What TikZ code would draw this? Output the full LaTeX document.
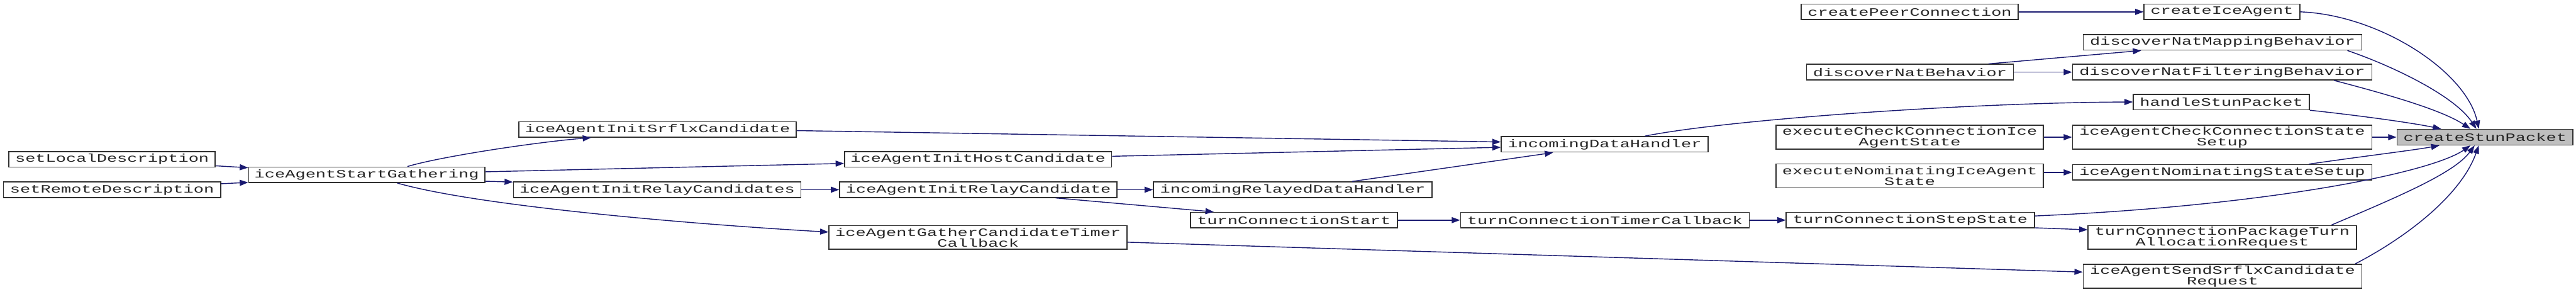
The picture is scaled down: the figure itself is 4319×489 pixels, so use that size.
\documentclass[tikz,border=0pt]{standalone}
\usepackage{fontspec}
\newfontfamily\lblfont[FakeStretch=1.5]{Liberation Mono}
\usetikzlibrary{arrows.meta,calc}
\definecolor{edgeblue}{HTML}{191970}
\definecolor{tgtgray}{HTML}{BFBFBF}
\definecolor{boxline}{HTML}{303030}
\tikzset{
  fn/.style={draw=boxline, line width=1.7pt, fill=white, inner sep=0pt, anchor=north west,
    align=center, text=black!85, font=\lblfont\fontsize{19}{18}\selectfont},
  tgt/.style={fn, fill=tgtgray},
  call/.style={draw=edgeblue, line width=1.5pt, -{Triangle[length=14pt,width=10pt]}},
}
\begin{document}
\begin{tikzpicture}[x=1pt,y=1pt]
\useasboundingbox (0,0) rectangle (4319,-489);
% nodes
\node[fn, minimum width=364pt, minimum height=26pt] (cpc) at (3019,-6) {createPeerConnection};
\node[fn, minimum width=261pt, minimum height=26pt] (cia) at (3594,-6) {createIceAgent};
\node[fn, minimum width=467pt, minimum height=26pt] (dnmb) at (3492,-57) {discoverNatMappingBehavior};
\node[fn, minimum width=347pt, minimum height=26pt] (dnb) at (3028,-107) {discoverNatBehavior};
\node[fn, minimum width=502pt, minimum height=26pt] (dnfb) at (3474,-107) {discoverNatFilteringBehavior};
\node[fn, minimum width=295pt, minimum height=26pt] (hsp) at (3576,-157) {handleStunPacket};
\node[fn, minimum width=448pt, minimum height=40pt] (ecc) at (2977,-209) {executeCheckConnectionIce\\AgentState};
\node[fn, minimum width=502pt, minimum height=40pt] (accs) at (3474,-209) {iceAgentCheckConnectionState\\Setup};
\node[tgt, minimum width=295pt, minimum height=26pt] (csp) at (4018,-216) {createStunPacket};
\node[fn, minimum width=448pt, minimum height=40pt] (enic) at (2977,-274) {executeNominatingIceAgent\\State};
\node[fn, minimum width=502pt, minimum height=26pt] (anss) at (3474,-275) {iceAgentNominatingStateSetup};
\node[fn, minimum width=416pt, minimum height=26pt] (tcss) at (2994,-355) {turnConnectionStepState};
\node[fn, minimum width=450pt, minimum height=40pt] (tcpt) at (3500,-377) {turnConnectionPackageTurn\\AllocationRequest};
\node[fn, minimum width=467pt, minimum height=40pt] (assr) at (3492,-442) {iceAgentSendSrflxCandidate\\Request};
\node[fn, minimum width=347pt, minimum height=26pt] (idh) at (2516,-228) {incomingDataHandler};
\node[fn, minimum width=467pt, minimum height=26pt] (irdh) at (1933,-304) {incomingRelayedDataHandler};
\node[fn, minimum width=347pt, minimum height=26pt] (tcs) at (1995,-355) {turnConnectionStart};
\node[fn, minimum width=484pt, minimum height=26pt] (tctc) at (2448,-355) {turnConnectionTimerCallback};
\node[fn, minimum width=465pt, minimum height=26pt] (aisc) at (869,-203) {iceAgentInitSrflxCandidate};
\node[fn, minimum width=448pt, minimum height=26pt] (aihc) at (1415,-253) {iceAgentInitHostCandidate};
\node[fn, minimum width=482pt, minimum height=26pt] (airc) at (860,-304) {iceAgentInitRelayCandidates};
\node[fn, minimum width=465pt, minimum height=26pt] (air1) at (1407,-304) {iceAgentInitRelayCandidate};
\node[fn, minimum width=500pt, minimum height=40pt] (agct) at (1389,-377) {iceAgentGatherCandidateTimer\\Callback};
\node[fn, minimum width=346pt, minimum height=26pt] (sld) at (14,-253) {setLocalDescription};
\node[fn, minimum width=364pt, minimum height=26pt] (srd) at (5,-304) {setRemoteDescription};
\node[fn, minimum width=396pt, minimum height=26pt] (asg) at (416,-279) {iceAgentStartGathering};
% edges
\draw[call] (cpc.east) -- (cia.west);
\draw[call] (cia.east) .. controls (3990,-25) and (4135,-120) .. ($(csp.north west)+(138,0)$);
\draw[call] ($(dnmb.south east)+(-25,0)$) .. controls (4010,-110) and (4115,-160) .. ($(csp.north west)+(134,0)$);
\draw[call] ($(dnb.north west)+(306,0)$) -- ($(dnmb.south west)+(98,0)$);
\draw[call] (dnb.east) -- (dnfb.west);
\draw[call] ($(dnfb.south west)+(439,0)$) .. controls (4010,-160) and (4095,-185) .. ($(csp.north west)+(124,0)$);
\draw[call] (hsp.south east) .. controls (3950,-193) and (4040,-205) .. ($(csp.north west)+(75,0)$);
\draw[call] ($(idh.north west)+(242,0)$) .. controls (2900,-200) and (3300,-172) .. (hsp.west);
\draw[call] (ecc.east) -- (accs.west);
\draw[call] (accs.east) -- (csp.west);
\draw[call] (enic.east |- anss.west) -- (anss.west);
\draw[call] ($(anss.north west)+(397,0)$) .. controls (3960,-262) and (4045,-252) .. ($(csp.south west)+(72,0)$);
\draw[call] ($(tcss.east)+(0,7)$) .. controls (3800,-345) and (4075,-290) .. ($(csp.south west)+(124,0)$);
\draw[call] ($(tcss.south east)+(0,1)$) -- ($(tcpt.north west)+(0,-8)$);
\draw[call] ($(tcpt.north west)+(409,0)$) .. controls (4020,-330) and (4115,-290) .. ($(csp.south west)+(131,0)$);
\draw[call] ($(assr.north west)+(457,0)$) .. controls (4030,-400) and (4125,-330) .. ($(csp.south west)+(138,0)$);
\draw[call] ($(agct.east)+(0,-8)$) -- ($(assr.west)+(0,7)$);
\draw[call] (tctc.east) -- (tcss.west);
\draw[call] (tcs.east) -- (tctc.west);
\draw[call] ($(air1.south west)+(363,0)$) -- ($(tcs.north west)+(40,0)$);
\draw[call] (air1.east) -- (irdh.west);
\draw[call] (airc.east) -- (air1.west);
\draw[call] ($(irdh.north west)+(334,0)$) -- ($(idh.south west)+(88,0)$);
\draw[call] ($(aihc.east)+(0,5)$) -- ($(idh.west)+(0,-5)$);
\draw[call] ($(aisc.east)+(0,-2)$) -- ($(idh.west)+(0,4)$);
\draw[call] ($(asg.north west)+(267,0)$) .. controls (740,-262) and (900,-238) .. ($(aisc.south west)+(122,0)$);
\draw[call] ($(asg.east)+(0,5)$) -- ($(aihc.west)+(0,-7)$);
\draw[call] ($(asg.south east)+(0,3)$) -- ($(airc.north west)+(0,-1)$);
\draw[call] ($(asg.south west)+(250,0)$) .. controls (800,-345) and (1150,-375) .. ($(agct.west)+(0,9)$);
\draw[call] ($(sld.east)+(0,-11)$) -- ($(asg.north west)+(0,-2)$);
\draw[call] ($(srd.east)+(0,10)$) -- ($(asg.south west)+(0,1)$);
\end{tikzpicture}
\end{document}
